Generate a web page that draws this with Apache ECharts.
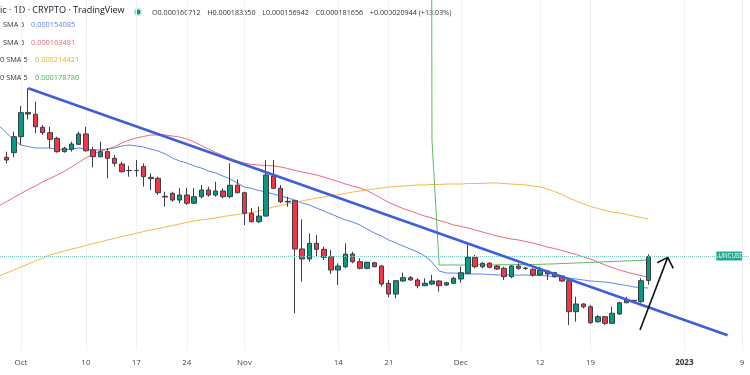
<!DOCTYPE html>
<html><head><meta charset="utf-8">
<script src="https://cdn.jsdelivr.net/npm/echarts@6/dist/echarts.min.js"></script>
<style>html,body{margin:0;padding:0;background:#fff}#c{width:750px;height:375px}</style>
</head><body><div id="c"></div>
<script>
// All prices are in micro-USD (1e-6 USD), LUNC/USD daily.
const originDate = '2022-10-01';        // day 0 of the x axis
const viewStartDay = -2.913, viewEndDay = 101.109;
const candleStartDate = '2022-09-29';
const smaStartDate = '2022-09-28';
const greenStartDate = '2022-11-26';

// [open, close, low, high]
const ohlc = [
 [268.4,266.0,263.1,273.3],[272.4,286.4,268.4,290.8],[286.4,307.4,279.1,313.2],[307.6,306.2,301.6,328.7],
 [306.0,295.1,289.4,317.0],[294.6,289.9,287.9,296.6],[289.9,284.1,276.3,295.1],[285.0,273.3,272.4,286.4],
 [273.3,276.3,272.4,277.6],[275.4,280.0,273.3,282.0],[279.7,288.8,279.1,290.8],[288.8,274.1,273.3,295.1],
 [274.8,268.9,259.6,277.6],[268.9,273.3,268.4,282.0],[273.3,267.5,250.0,276.3],[267.5,263.1,260.2,270.4],
 [262.5,255.8,254.9,264.5],[256.7,256.9,251.4,260.8],[256.9,256.7,251.4,266.0],[260.2,251.4,242.7,263.1],
 [250.9,249.7,239.8,254.4],[250.0,237.4,235.4,251.4],[234.3,233.7,225.2,238.3],[236.9,231.0,229.6,238.3],
 [231.0,235.4,228.4,241.5],[235.4,228.2,226.7,241.5],[228.2,233.9,227.5,241.5],[233.9,239.8,232.5,244.2],
 [239.8,235.4,233.9,242.7],[235.4,238.9,233.9,247.0],[238.9,233.9,232.5,241.3],[233.9,243.9,232.5,263.1],
 [243.9,237.4,236.9,249.1],[237.4,219.4,209.2,238.3],[219.4,212.1,211.4,224.0],[212.1,217.0,210.9,225.2],
 [217.0,252.9,216.4,266.0],[252.0,241.3,240.4,266.0],[241.3,229.6,228.4,244.2],[229.3,229.9,225.2,233.9],
 [230.4,188.2,132.0,231.0],[188.2,179.5,159.6,214.2],[179.5,193.2,177.1,201.9],[193.2,187.9,181.5,200.4],
 [187.9,180.9,178.6,190.2],[181.5,169.8,166.3,187.3],[169.8,173.3,156.7,175.7],[172.7,183.8,171.3,193.2],
 [183.8,177.1,175.7,185.8],[177.1,171.3,170.4,180.1],[171.3,176.6,170.4,177.1],[176.2,172.7,172.2,177.1],
 [173.3,157.6,155.2,174.2],[158.2,148.8,146.0,161.1],[148.8,160.5,145.1,161.1],[160.2,163.1,159.6,167.5],
 [163.1,161.1,160.5,164.6],[161.1,156.1,153.8,162.6],[156.1,158.2,155.8,162.6],[157.6,160.2,156.7,165.5],
 [160.2,156.1,150.9,161.1],[156.7,158.7,155.8,159.6],[158.2,162.6,157.6,164.0],[162.0,167.5,158.7,172.7],
 [166.9,180.9,166.3,192.3],[180.9,172.7,171.3,183.0],[172.7,175.7,171.3,176.8],[175.7,172.2,171.3,176.8],
 [173.3,170.7,169.8,174.2],[171.3,164.0,161.1,172.7],[164.0,173.3,162.6,174.2],[173.3,171.3,169.8,175.7],
 [171.3,171.5,169.8,172.2],[170.4,165.5,164.0,171.3],[165.5,169.8,164.6,172.7],[169.0,166.3,161.1,169.8],
 [167.5,164.0,163.1,168.3],[164.6,160.2,159.6,165.5],[160.5,133.4,121.7,161.1],[133.4,140.1,124.6,146.5],
 [140.1,137.7,136.3,140.7],[137.7,123.8,122.6,139.2],[124.6,129.0,123.8,130.5],[129.0,123.2,121.7,129.6],
 [123.2,132.0,122.6,137.7],[131.4,141.2,130.5,142.1],[141.2,143.6,140.7,146.5],[143.3,142.8,141.6,143.6],
 [142.1,160.5,141.2,162.6],[160.712,181.656,156.942,183.55]
];

const smaBlue = [295.7,289.6,283.5,279.1,277.8,276.5,276.5,276.5,275.6,274.8,275.6,276.5,275.6,274.8,274.8,275.6,
 276.5,278.3,279.1,278.3,277.4,275.6,273.9,271.3,267.8,265.1,263.4,260.8,259.0,256.4,254.7,252.0,249.4,245.9,242.4,
 241.1,239.3,238.0,236.3,234.5,232.8,231.0,228.4,226.7,224.0,221.4,218.8,216.2,213.6,211.8,209.2,205.7,202.2,199.6,
 196.1,193.4,190.8,188.2,185.6,182.1,176.8,169.0,167.2,167.2,166.8,166.3,166.3,166.3,165.9,165.5,165.4,165.6,165.3,
 165.5,165.2,165.0,164.6,164.2,163.7,162.8,162.0,161.1,160.2,159.8,159.3,158.5,157.2,156.3,155.0,154.5,154.085];
const smaRed = [226.2,229.7,233.2,236.7,240.2,243.3,246.8,249.8,252.9,256.0,259.9,263.8,267.8,271.3,273.5,275.6,
 277.8,280.9,283.5,285.3,286.6,287.9,287.9,287.9,287.0,286.1,284.4,281.8,278.7,275.6,272.6,270.0,267.3,265.1,263.4,
 262.1,261.6,261.2,260.8,259.9,258.6,256.8,255.5,254.2,252.9,251.1,249.0,247.2,245.0,243.3,241.5,239.3,235.9,232.4,
 228.9,226.2,223.6,221.4,219.2,217.0,215.3,213.1,211.4,209.2,207.9,206.6,204.8,203.1,201.3,199.6,198.2,196.9,196.1,
 194.7,193.4,191.7,189.9,188.6,186.9,185.1,183.4,181.2,179.4,176.8,174.2,172.0,169.8,168.1,166.3,165.0,163.481];
const smaOrange = [164.6,167.2,169.8,172.5,175.1,177.7,180.3,183.0,184.7,186.4,188.2,189.5,191.3,193.0,194.3,196.1,
 197.4,199.1,200.4,201.9,203.5,204.8,206.1,207.4,208.7,210.1,211.4,212.7,213.6,214.4,215.3,216.6,217.5,218.4,219.2,
 220.1,221.4,223.2,224.9,226.2,227.5,228.9,230.2,231.5,232.8,233.7,235.0,235.8,236.7,238.0,238.9,239.8,240.7,241.5,
 242.4,242.8,243.3,243.7,244.2,244.2,244.6,244.6,245.0,245.0,245.0,245.5,245.5,245.5,245.9,245.9,245.5,245.0,244.6,
 244.2,243.3,242.4,240.7,238.5,235.9,232.8,230.2,227.5,225.4,223.6,221.9,220.5,219.7,218.4,217.0,215.7,214.421];
const smaGreen = [4000,283.5,174.2,174.2,174.3,174.1,174.2,174.4,174.3,174.2,174.3,174.5,174.4,174.6,174.5,174.7,
 174.8,175.0,175.2,175.5,175.7,176.0,176.2,176.5,176.7,177.0,177.2,177.5,177.8,178.0,178.3,178.78];

const trendLine = [['2022-10-02', 328.7], ['2023-01-07', 112.8]];
// arrow annotation: [day index from originDate, price]
const arrowShaft = [[85.85, 117.4], [89.69, 180.9]];
const arrowHead = [[88.25, 176.2], [89.69, 180.9], [90.47, 171.3]];

const tickDates = ['2022-10-01','2022-10-10','2022-10-17','2022-10-24','2022-11-01','2022-11-14','2022-11-21',
 '2022-12-01','2022-12-12','2022-12-19','2023-01-01','2023-01-09'];
const tickLabels = ['Oct','10','17','24','Nov','14','21','Dec','12','19','2023','9'];

const legendValues = ['0.000154085','0.000163481','0.000214421','0.000178780'];
const legendNames = ['SMA 5','SMA 5','0 SMA 5','0 SMA 5'];
const ohlcText = {O:'0.000160712', H:'0.000183550', L:'0.000156942', C:'0.000181656', chg:'+0.000020944 (+13.03%)'};
const lastClose = 181.656;

const UP = '#089981', DOWN = '#f23645', WICK = '#3c3f47';
const COLORS = {blue:'#5d84e6', red:'#ee6877', orange:'#f5b74a', green:'#5fb864'};

const DAY = 86400000, T0 = Date.parse(originDate + 'T00:00:00Z');
const dayIndex = d => Math.round((Date.parse(d + 'T00:00:00Z') - T0) / DAY);
const series = (arr, startDate) => arr.map((v, k) => [dayIndex(startDate) + k, v]);

const candleData = ohlc.map((c, k) => [dayIndex(candleStartDate) + k, c[0], c[1], c[2], c[3]]);
const tickValues = tickDates.map(dayIndex);

const chart = echarts.init(document.getElementById('c'), null, {renderer: 'canvas'});
const FONT = 'Open Sans';
const lineSeries = (name, arr, start, color) => ({
  name, type: 'line', data: series(arr, start), symbol: 'none',
  lineStyle: {color, width: 1}, silent: true, z: 3
});

chart.setOption({
  animation: false,
  backgroundColor: '#ffffff',
  grid: {left: 0, right: 0, top: 0, bottom: 25},
  xAxis: {
    type: 'value', min: viewStartDay, max: viewEndDay,
    axisLine: {show: false},
    axisTick: {show: false, customValues: tickValues},
    axisLabel: {customValues: tickValues, margin: 9, fontSize: 8, color: '#4a4a4a', fontFamily: FONT,
      formatter: v => { const l = tickLabels[tickValues.indexOf(Math.round(v))]; return l === '2023' ? '{b|' + l + '}' : (l || ''); },
      rich: {b: {fontWeight: 'bold', fontSize: 8, color: '#333', fontFamily: FONT}}},
    splitLine: {show: true, lineStyle: {color: '#eff1f5', width: 1}}
  },
  yAxis: {
    type: 'value', min: 99.88, max: 405.92, position: 'right',
    axisLabel: {show: false}, axisLine: {show: false}, axisTick: {show: false},
    splitLine: {show: false}
  },
  series: [
    {
      name: 'LUNCUSD', type: 'candlestick', data: candleData, barWidth: 5, z: 4,
      itemStyle: {color: UP, color0: DOWN, borderColor: WICK, borderColor0: WICK, borderColorDoji: WICK, borderWidth: 1},
      markLine: {symbol: 'none', silent: true,
        label: {show: false},
        lineStyle: {type: 'dotted', color: '#7cc9bb', width: 1},
        data: [{yAxis: lastClose}]}
    },
    lineSeries('SMA blue', smaBlue, smaStartDate, COLORS.blue),
    lineSeries('SMA red', smaRed, smaStartDate, COLORS.red),
    lineSeries('SMA orange', smaOrange, smaStartDate, COLORS.orange),
    lineSeries('SMA green', smaGreen, greenStartDate, COLORS.green),
    {name: 'Trend', type: 'line', data: trendLine.map(p => [dayIndex(p[0]), p[1]]), symbol: 'none',
     lineStyle: {color: '#3e5fdb', width: 2.6}, z: 5, silent: true},
    {name: 'Arrow shaft', type: 'line', data: arrowShaft, symbol: 'none',
     lineStyle: {color: '#111', width: 1.6}, z: 6, silent: true},
    {name: 'Arrow head', type: 'line', data: arrowHead, symbol: 'none',
     lineStyle: {color: '#111', width: 1.6}, z: 6, silent: true}
  ],
  graphic: [
    {type: 'text', left: 0, top: 6, style: {text: 'ic · 1D · CRYPTO · TradingView', fontSize: 9, fontFamily: FONT, fill: '#131722'}},
    {type: 'circle', shape: {cx: 138, cy: 12, r: 4.5}, style: {fill: 'rgba(8,153,129,0.18)'}},
    {type: 'circle', shape: {cx: 138, cy: 12, r: 2.5}, style: {fill: UP}},
    {type: 'text', left: 152, top: 7, style: {
      rich: {k: {fontSize: 7.2, fontFamily: FONT, fill: '#333'}, v: {fontSize: 7.2, fontFamily: FONT, fill: '#333'}},
      text: '{k|O}{v|' + ohlcText.O + '}  {k|H}{v|' + ohlcText.H + '}  {k|L}{v|' + ohlcText.L + '}  {k|C}{v|' + ohlcText.C + '}  {v|' + ohlcText.chg + '}'
    }},
    ...legendNames.map((n, i) => ({type: 'text', left: i < 2 ? 3 : 0, top: 21.5 + i * 17.5,
      style: {text: n, fontSize: 7.4, fontFamily: FONT, fill: '#333'}})),
    ...legendValues.map((v, i) => ({type: 'text', left: i < 2 ? 31 : 35, top: 21.5 + i * 17.5,
      style: {text: v, fontSize: 7.4, fontFamily: FONT, fill: [COLORS.blue, COLORS.red, '#e9ad2e', '#4caf50'][i]}})),
    {type: 'rect', shape: {x: 716, y: 251.5, width: 27, height: 9, r: 1.5}, style: {fill: '#22ab94'}},
    {type: 'text', x: 729.5, y: 256, style: {text: 'LUNCUSD', fontSize: 6.2, fontFamily: FONT, fill: '#fff', align: 'center', verticalAlign: 'middle'}}
  ]
});
</script></body></html>
